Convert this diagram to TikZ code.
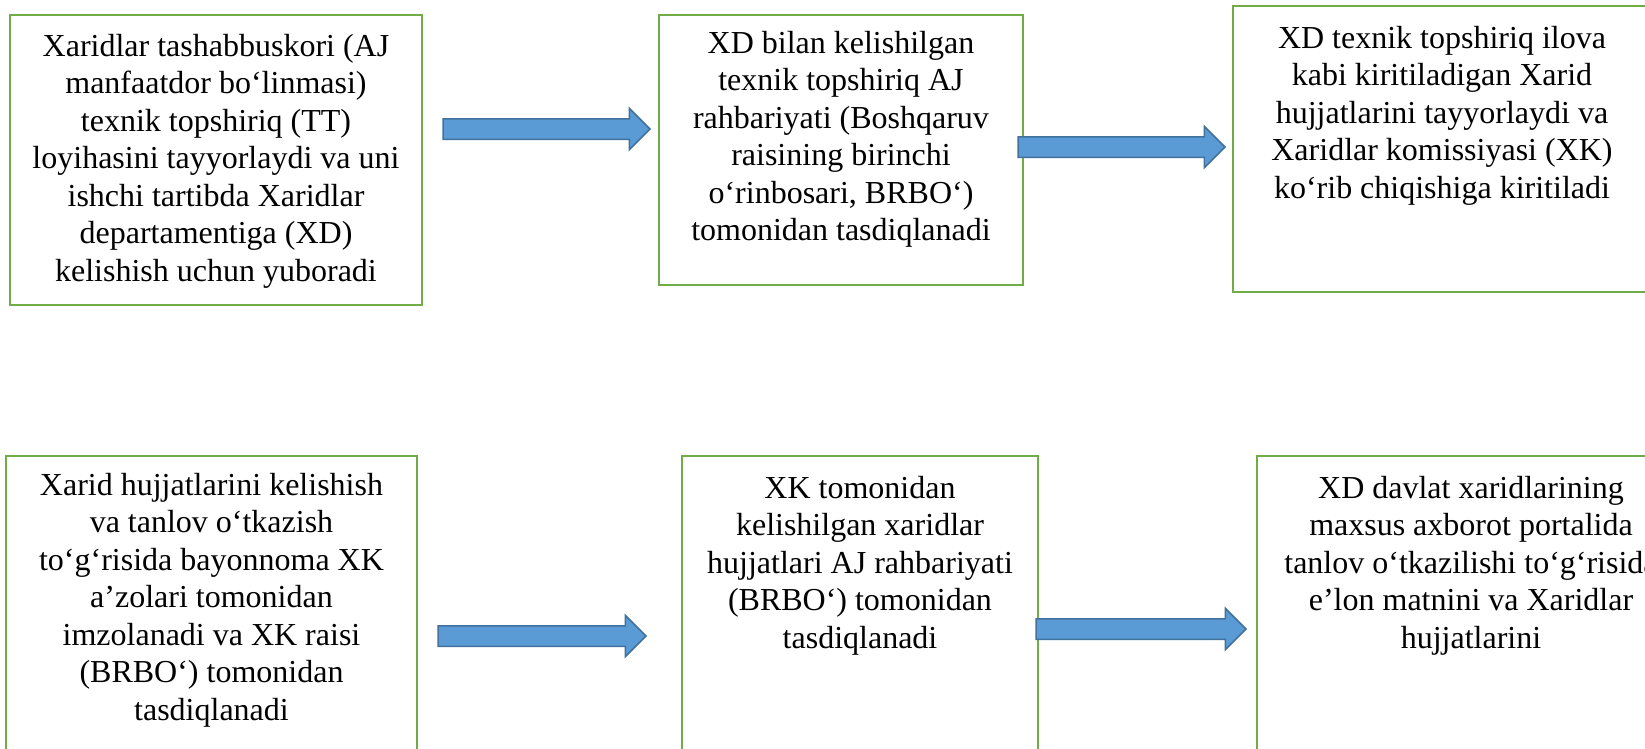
\documentclass[tikz,border=0pt]{standalone}
\usepackage{fontspec}
\setmainfont{Liberation Serif}
\usetikzlibrary{shapes.arrows}
\definecolor{boxgreen}{HTML}{70AD47}
\definecolor{arrowfill}{HTML}{5B9BD5}
\definecolor{arrowline}{HTML}{41719C}
\newcommand{\stagetext}[3]{\parbox[t][#2][t]{#1}{\centering #3}}
\begin{document}
\begin{tikzpicture}[x=1pt,y=-1pt,stage/.style={draw=boxgreen,line width=2.5pt,anchor=north west,outer sep=0pt,inner xsep=0pt,font=\fontsize{32}{37.5}\selectfont},flow/.style={single arrow,draw=arrowline,fill=arrowfill,line width=1.5pt,anchor=tail,outer sep=0pt,inner xsep=0pt,inner ysep=9.5pt,single arrow head extend=10.5pt,single arrow head indent=0pt}]
\useasboundingbox (0,0) rectangle (1645,748);
\clip (0,0) rectangle (1645,748);

\node[stage,inner ysep=19pt] (b1) at (10,15) {\stagetext{412pt}{252pt}{Xaridlar tashabbuskori (AJ\\ manfaatdor bo‘linmasi)\\ texnik topshiriq (TT)\\ loyihasini tayyorlaydi va uni\\ ishchi tartibda Xaridlar\\ departamentiga (XD)\\ kelishish uchun yuboradi}};
\node[stage,inner ysep=16pt] (b2) at (659,15) {\stagetext{364pt}{238pt}{XD bilan kelishilgan\\ texnik topshiriq AJ\\ rahbariyati (Boshqaruv\\ raisining birinchi\\ o‘rinbosari, BRBO‘)\\ tomonidan tasdiqlanadi}};
\node[stage,inner ysep=20pt] (b3) at (1233,6) {\stagetext{418pt}{246pt}{XD texnik topshiriq ilova\\ kabi kiritiladigan Xarid\\ hujjatlarini tayyorlaydi va\\ Xaridlar komissiyasi (XK)\\ ko‘rib chiqishiga kiritiladi}};

\node[stage,inner ysep=17pt] (b4) at (6,456) {\stagetext{411pt}{276pt}{Xarid hujjatlarini kelishish\\ va tanlov o‘tkazish\\ to‘g‘risida bayonnoma XK\\ a’zolari tomonidan\\ imzolanadi va XK raisi\\ (BRBO‘) tomonidan\\ tasdiqlanadi}};
\node[stage,inner ysep=20pt] (b5) at (682,456) {\stagetext{356pt}{270pt}{XK tomonidan\\ kelishilgan xaridlar\\ hujjatlari AJ rahbariyati\\ (BRBO‘) tomonidan\\ tasdiqlanadi}};
\node[stage,inner ysep=20pt] (b6) at (1257,456) {\stagetext{428pt}{270pt}{XD davlat xaridlarining\\ maxsus axborot portalida\\ tanlov o‘tkazilishi to‘g‘risida\\ e’lon matnini va Xaridlar\\ hujjatlarini}};

\node[flow,minimum height=207pt] (a1) at (443,129) {};
\node[flow,minimum height=207pt] (a2) at (1018,147) {};
\node[flow,minimum height=208pt] (a3) at (438,636) {};
\node[flow,minimum height=210pt] (a4) at (1036,629) {};
\end{tikzpicture}
\end{document}
